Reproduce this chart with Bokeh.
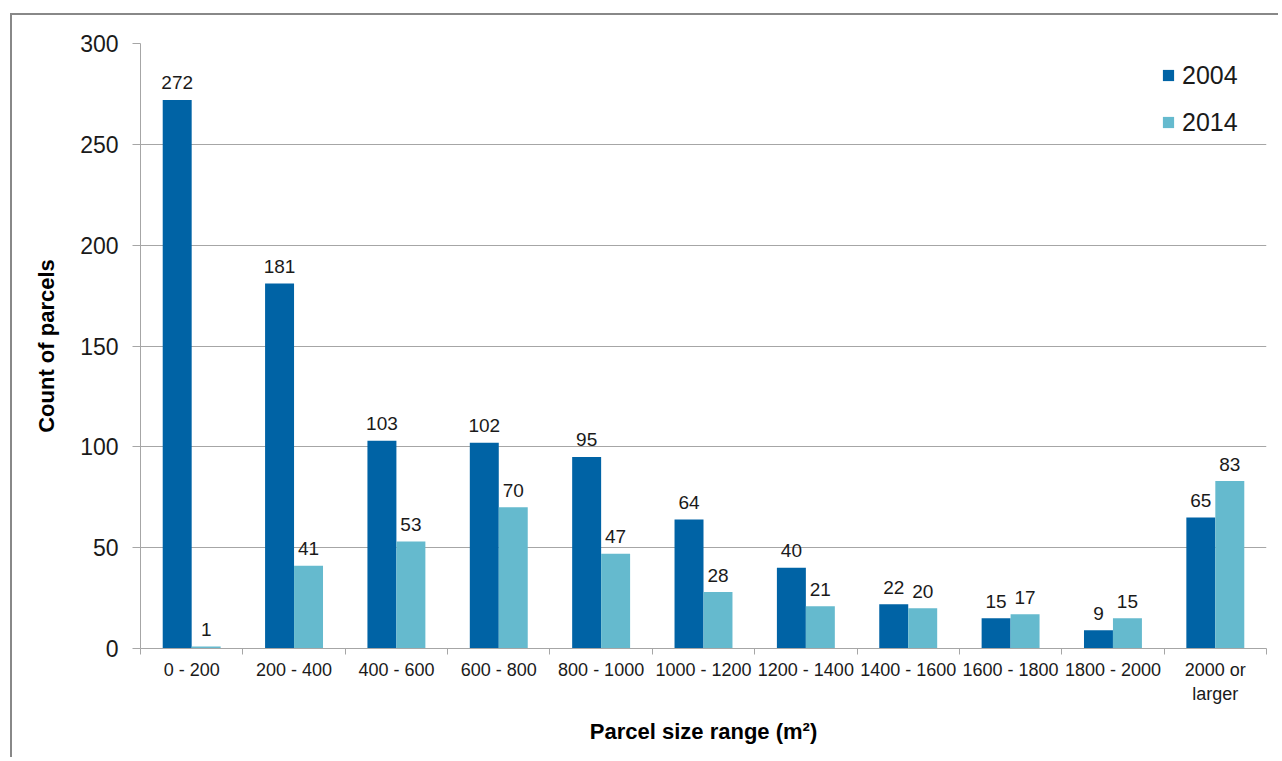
from bokeh.plotting import figure
from bokeh.models import ColumnDataSource, Range1d, FixedTicker, Legend, LegendItem
from bokeh.core.properties import value
from bokeh.embed import file_html
from bokeh.resources import INLINE

# Parcel counts by size range, two survey years
size_ranges = ["0 - 200", "200 - 400", "400 - 600", "600 - 800", "800 - 1000",
               "1000 - 1200", "1200 - 1400", "1400 - 1600", "1600 - 1800",
               "1800 - 2000", "2000 or\nlarger"]
count_2004 = [272, 181, 103, 102, 95, 64, 40, 22, 15, 9, 65]
count_2014 = [1, 41, 53, 70, 47, 28, 21, 20, 17, 15, 83]
y_ticks = [0, 50, 100, 150, 200, 250, 300]

FONT = "Liberation Sans"
DARK = "#0063a5"
LIGHT = "#65bace"
GRID = "#a6a6a6"
TEXT = "#1a1a1a"

n = len(size_ranges)
bar_w = 0.283
centers = [i + 0.5 for i in range(n)]

src04 = ColumnDataSource(dict(x=[c - bar_w / 2 for c in centers], top=count_2004,
                              label=[str(v) for v in count_2004]))
src14 = ColumnDataSource(dict(x=[c + bar_w / 2 for c in centers], top=count_2014,
                              label=[str(v) for v in count_2014]))

p = figure(width=1268, height=744, output_backend="svg", toolbar_location=None,
           x_range=Range1d(0, n), y_range=Range1d(0, 300),
           min_border_left=128, min_border_top=28, min_border_right=14,
           min_border_bottom=111)
p.margin = (13, 0, 0, 10)
p.styles = {"border-top": "2px solid #888888", "border-left": "2px solid #888888"}
p.outline_line_color = None
p.background_fill_color = "white"
p.border_fill_color = "white"

r04 = p.vbar(x="x", top="top", width=bar_w, source=src04, fill_color=DARK, line_color=None)
r14 = p.vbar(x="x", top="top", width=bar_w, source=src14, fill_color=LIGHT, line_color=None)

for src in (src04, src14):
    p.text(x="x", y="top", text="label", source=src, text_font=value(FONT),
           text_font_size="19px", text_color=TEXT, text_align="center",
           text_baseline="alphabetic", y_offset=-17)

# x axis: labels at category centres, tick marks at category boundaries
xa = p.xaxis[0]
xa.ticker = FixedTicker(ticks=centers, minor_ticks=list(range(n + 1)))
xa.major_label_overrides = {c: lab for c, lab in zip(centers, size_ranges)}
xa.major_tick_out = 0
xa.major_tick_in = 0
xa.minor_tick_out = 6
xa.minor_tick_in = 0
xa.minor_tick_line_color = GRID
xa.axis_line_color = GRID
xa.major_label_text_font = FONT
xa.major_label_text_font_size = "18px"
xa.major_label_text_color = TEXT
xa.major_label_standoff = 5
xa.axis_label = "Parcel size range (m²)"
xa.axis_label_text_font = FONT
xa.axis_label_text_font_size = "22px"
xa.axis_label_text_font_style = "bold"
xa.axis_label_text_color = "black"
xa.axis_label_standoff = 12

ya = p.yaxis[0]
ya.ticker = FixedTicker(ticks=y_ticks)
ya.major_tick_out = 8
ya.major_tick_in = 0
ya.minor_tick_out = 0
ya.minor_tick_in = 0
ya.major_tick_line_color = GRID
ya.axis_line_color = GRID
ya.major_label_text_font = FONT
ya.major_label_text_font_size = "23px"
ya.major_label_text_color = TEXT
ya.major_label_standoff = 14
ya.axis_label = "Count of parcels"
ya.axis_label_text_font = FONT
ya.axis_label_text_font_size = "22px"
ya.axis_label_text_font_style = "bold"
ya.axis_label_text_color = "black"
ya.axis_label_standoff = 18

p.xgrid.visible = False
p.ygrid.ticker = FixedTicker(ticks=y_ticks)
p.ygrid.grid_line_color = GRID

legend = Legend(items=[LegendItem(label="2004", renderers=[r04]),
                       LegendItem(label="2014", renderers=[r14])],
                location="top_right")
legend.border_line_color = None
legend.background_fill_alpha = 0
legend.margin = 16
legend.padding = 0
legend.glyph_width = 14
legend.glyph_height = 14
legend.label_standoff = 7
legend.label_width = 68
legend.label_height = 32
legend.spacing = 15
legend.label_text_font = FONT
legend.label_text_font_size = "25px"
legend.label_text_color = TEXT
p.add_layout(legend)

open("out.html", "w").write(file_html(p, INLINE))
